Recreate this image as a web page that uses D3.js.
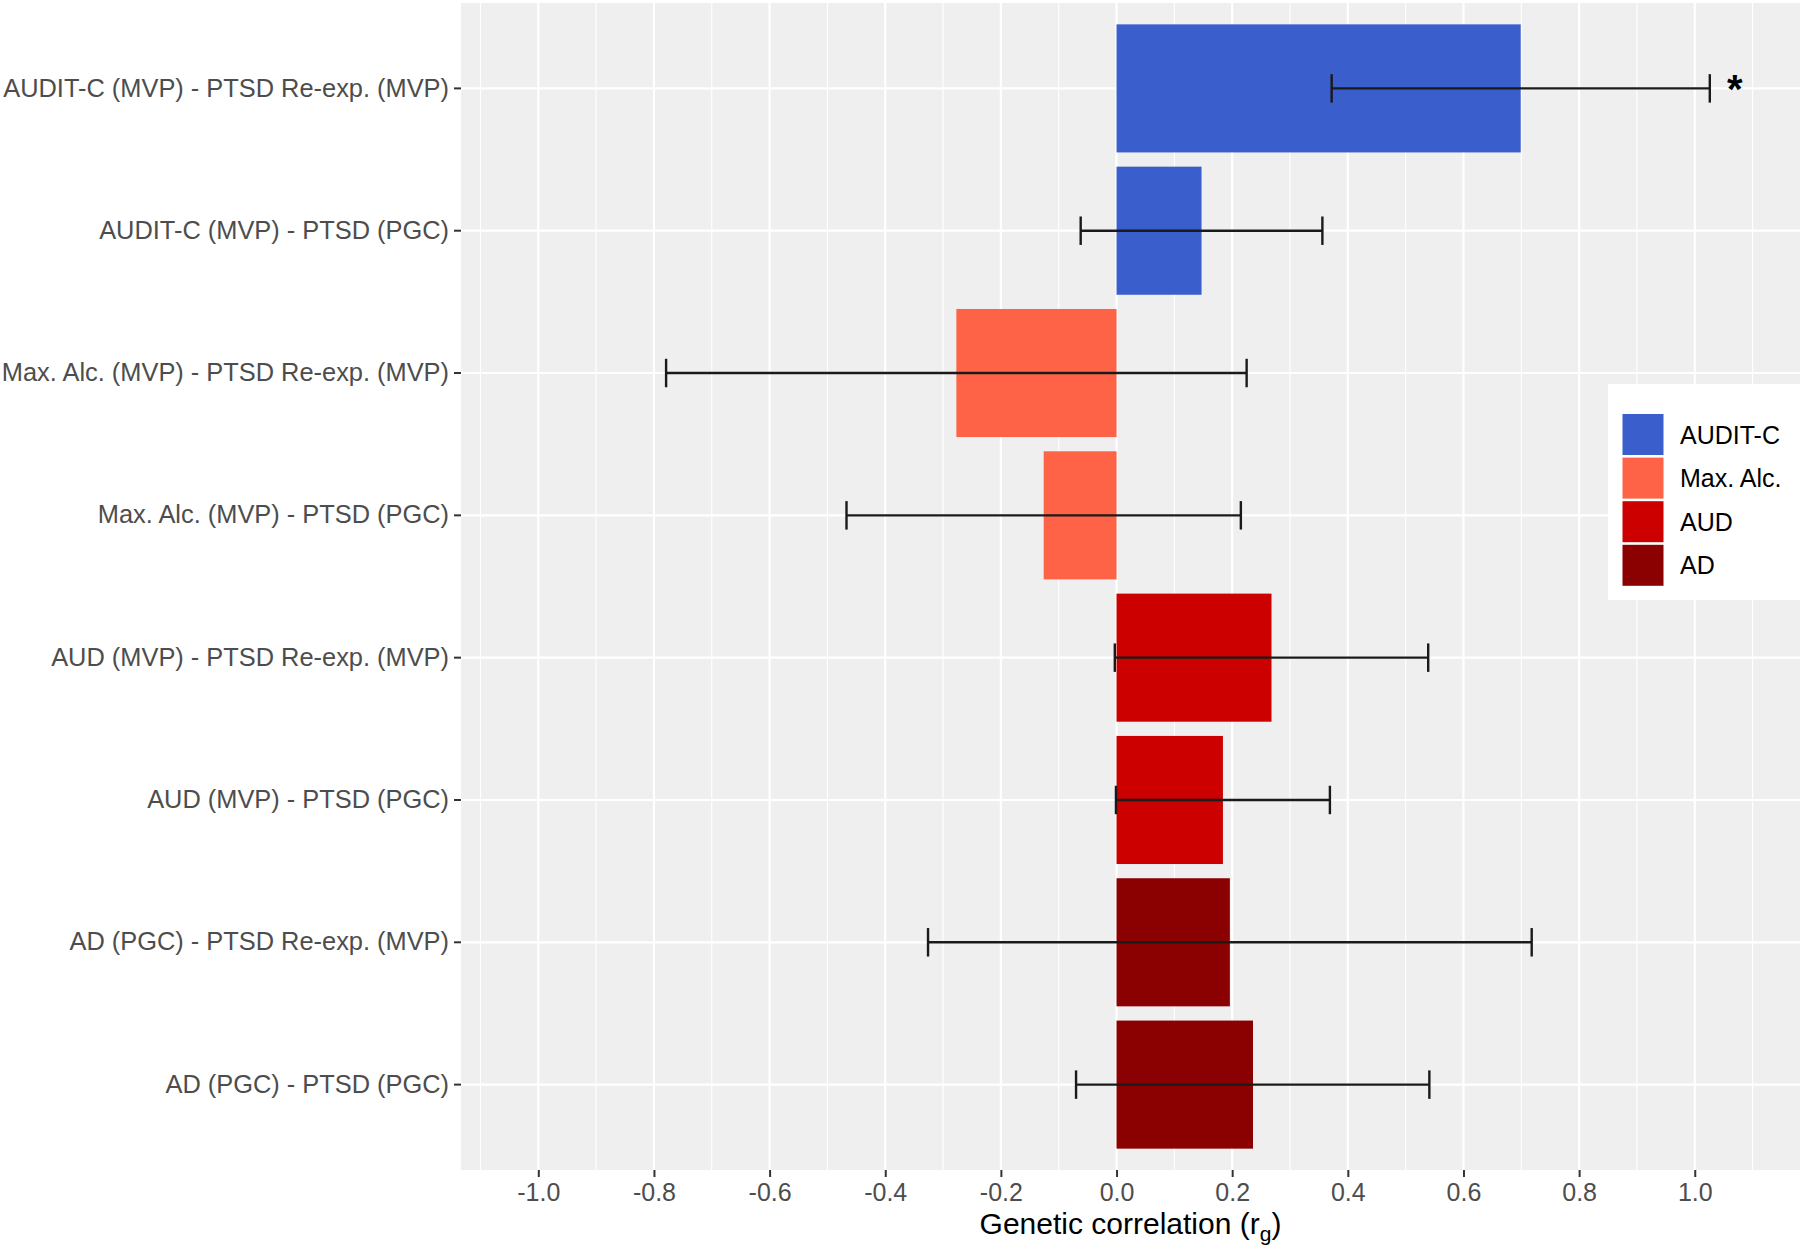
<!DOCTYPE html>
<html>
<head>
<meta charset="utf-8">
<script src="https://cdn.jsdelivr.net/npm/d3@7"></script>
<style>
  html, body { margin: 0; padding: 0; background: #ffffff; }
  svg { display: block; font-family: "Liberation Sans", Arial, Helvetica, sans-serif; }
</style>
</head>
<body>
<svg id="chart" width="1800" height="1247"></svg>
<script>
// ---- data ----
const categories = [
  "AUDIT-C (MVP) - PTSD Re-exp. (MVP)",
  "AUDIT-C (MVP) - PTSD (PGC)",
  "Max. Alc. (MVP) - PTSD Re-exp. (MVP)",
  "Max. Alc. (MVP) - PTSD (PGC)",
  "AUD (MVP) - PTSD Re-exp. (MVP)",
  "AUD (MVP) - PTSD (PGC)",
  "AD (PGC) - PTSD Re-exp. (MVP)",
  "AD (PGC) - PTSD (PGC)"
];
const groups = ["AUDIT-C", "AUDIT-C", "Max. Alc.", "Max. Alc.", "AUD", "AUD", "AD", "AD"];
const rg = [0.699, 0.147, -0.277, -0.126, 0.268, 0.184, 0.196, 0.236];
const ciLow = [0.372, -0.062, -0.779, -0.467, -0.003, -0.001, -0.326, -0.070];
const ciHigh = [1.026, 0.356, 0.225, 0.215, 0.539, 0.369, 0.718, 0.541];
const significant = [true, false, false, false, false, false, false, false];
const legendGroups = ["AUDIT-C", "Max. Alc.", "AUD", "AD"];
const groupColors = ["#3A5FCD", "#FF6347", "#CD0000", "#8B0000"];
const xTicks = [-1.0, -0.8, -0.6, -0.4, -0.2, 0.0, 0.2, 0.4, 0.6, 0.8, 1.0];
const xMinorTicks = [-1.1, -0.9, -0.7, -0.5, -0.3, -0.1, 0.1, 0.3, 0.5, 0.7, 0.9, 1.1];
const xTitle = "Genetic correlation (r";
const xTitleSub = "g";

// ---- layout ----
const svg = d3.select("#chart");
const panel = { left: 461, right: 1800, top: 3, bottom: 1170 };

const x = d3.scaleLinear().domain([-1.1337, 1.1820]).range([panel.left, panel.right]);
const y = d3.scaleBand().domain(categories).range([panel.top, panel.bottom])
  .paddingInner(0.1).paddingOuter(0.15);
const color = d3.scaleOrdinal().domain(legendGroups).range(groupColors);
const step = y.step();
const yc = c => y(c) + y.bandwidth() / 2;

const rows = categories.map((c, i) => ({
  cat: c, group: groups[i], v: rg[i], lo: ciLow[i], hi: ciHigh[i], sig: significant[i]
}));

// panel background
svg.append("rect")
  .attr("x", panel.left).attr("y", panel.top)
  .attr("width", panel.right - panel.left).attr("height", panel.bottom - panel.top)
  .attr("fill", "#EFEFEF");

// minor grid
svg.append("g").selectAll("line").data(xMinorTicks).join("line")
  .attr("x1", d => x(d)).attr("x2", d => x(d))
  .attr("y1", panel.top).attr("y2", panel.bottom)
  .attr("stroke", "#ffffff").attr("stroke-width", 1.1);

// major grid vertical
svg.append("g").selectAll("line").data(xTicks).join("line")
  .attr("x1", d => x(d)).attr("x2", d => x(d))
  .attr("y1", panel.top).attr("y2", panel.bottom)
  .attr("stroke", "#ffffff").attr("stroke-width", 2.2);

// major grid horizontal
svg.append("g").selectAll("line").data(categories).join("line")
  .attr("x1", panel.left).attr("x2", panel.right)
  .attr("y1", d => yc(d)).attr("y2", d => yc(d))
  .attr("stroke", "#ffffff").attr("stroke-width", 2.2);

// bars
svg.append("g").selectAll("rect").data(rows).join("rect")
  .attr("x", d => x(Math.min(0, d.v)))
  .attr("width", d => Math.abs(x(d.v) - x(0)))
  .attr("y", d => y(d.cat))
  .attr("height", y.bandwidth())
  .attr("fill", d => color(d.group));

// error bars
const capHalf = step * 0.1;
const eb = svg.append("g").attr("stroke", "#1a1a1a").attr("stroke-width", 2.4).attr("fill", "none");
eb.selectAll("line.h").data(rows).join("line").attr("class", "h")
  .attr("x1", d => x(d.lo)).attr("x2", d => x(d.hi))
  .attr("y1", d => yc(d.cat)).attr("y2", d => yc(d.cat));
eb.selectAll("line.l").data(rows).join("line").attr("class", "l")
  .attr("x1", d => x(d.lo)).attr("x2", d => x(d.lo))
  .attr("y1", d => yc(d.cat) - capHalf).attr("y2", d => yc(d.cat) + capHalf);
eb.selectAll("line.r").data(rows).join("line").attr("class", "r")
  .attr("x1", d => x(d.hi)).attr("x2", d => x(d.hi))
  .attr("y1", d => yc(d.cat) - capHalf).attr("y2", d => yc(d.cat) + capHalf);

// significance asterisk
svg.append("g").selectAll("text").data(rows.filter(d => d.sig)).join("text")
  .attr("x", d => x(d.hi) + 25)
  .attr("y", d => yc(d.cat) + 15)
  .attr("text-anchor", "middle")
  .attr("font-size", 40).attr("font-weight", "bold").attr("fill", "#000")
  .text("*");

// legend
const lg = svg.append("g");
lg.append("rect").attr("x", 1608).attr("y", 384).attr("width", 200).attr("height", 216)
  .attr("fill", "#ffffff");
const keySize = 41, keyStep = 43.6, keyX = 1622.5, keyY = 414;
lg.selectAll("rect.key").data(legendGroups).join("rect").attr("class", "key")
  .attr("x", keyX).attr("y", (d, i) => keyY + i * keyStep)
  .attr("width", keySize).attr("height", keySize)
  .attr("fill", d => color(d));
lg.selectAll("text").data(legendGroups).join("text")
  .attr("x", 1680).attr("y", (d, i) => keyY + i * keyStep + keySize / 2)
  .attr("dy", "0.36em")
  .attr("font-size", 25).attr("fill", "#000")
  .text(d => d);

// y axis
const yAxis = d3.axisLeft(y).tickSize(7).tickPadding(5);
const gy = svg.append("g").attr("transform", `translate(${panel.left},0)`).call(yAxis);
gy.select(".domain").remove();
gy.selectAll(".tick line").attr("stroke", "#333333").attr("stroke-width", 2);
gy.selectAll(".tick text").attr("font-size", 25.4).attr("fill", "#4D4D4D")
  .attr("font-family", "Liberation Sans, Arial, sans-serif");

// x axis
const fmt = d => (Math.abs(d) < 1e-9 ? 0 : d).toFixed(1);
const xAxis = d3.axisBottom(x).tickValues(xTicks).tickFormat(fmt).tickSize(7).tickPadding(6);
const gx = svg.append("g").attr("transform", `translate(0,${panel.bottom})`).call(xAxis);
gx.select(".domain").remove();
gx.selectAll(".tick line").attr("stroke", "#333333").attr("stroke-width", 2);
gx.selectAll(".tick text").attr("font-size", 25).attr("fill", "#4D4D4D")
  .attr("font-family", "Liberation Sans, Arial, sans-serif");

// x title
const t = svg.append("text")
  .attr("x", (panel.left + panel.right) / 2).attr("y", 1234)
  .attr("text-anchor", "middle").attr("font-size", 30).attr("fill", "#000");
t.append("tspan").text(xTitle);
t.append("tspan").attr("font-size", 21).attr("dy", 7).text(xTitleSub);
t.append("tspan").attr("dy", -7).text(")");
</script>
</body>
</html>
